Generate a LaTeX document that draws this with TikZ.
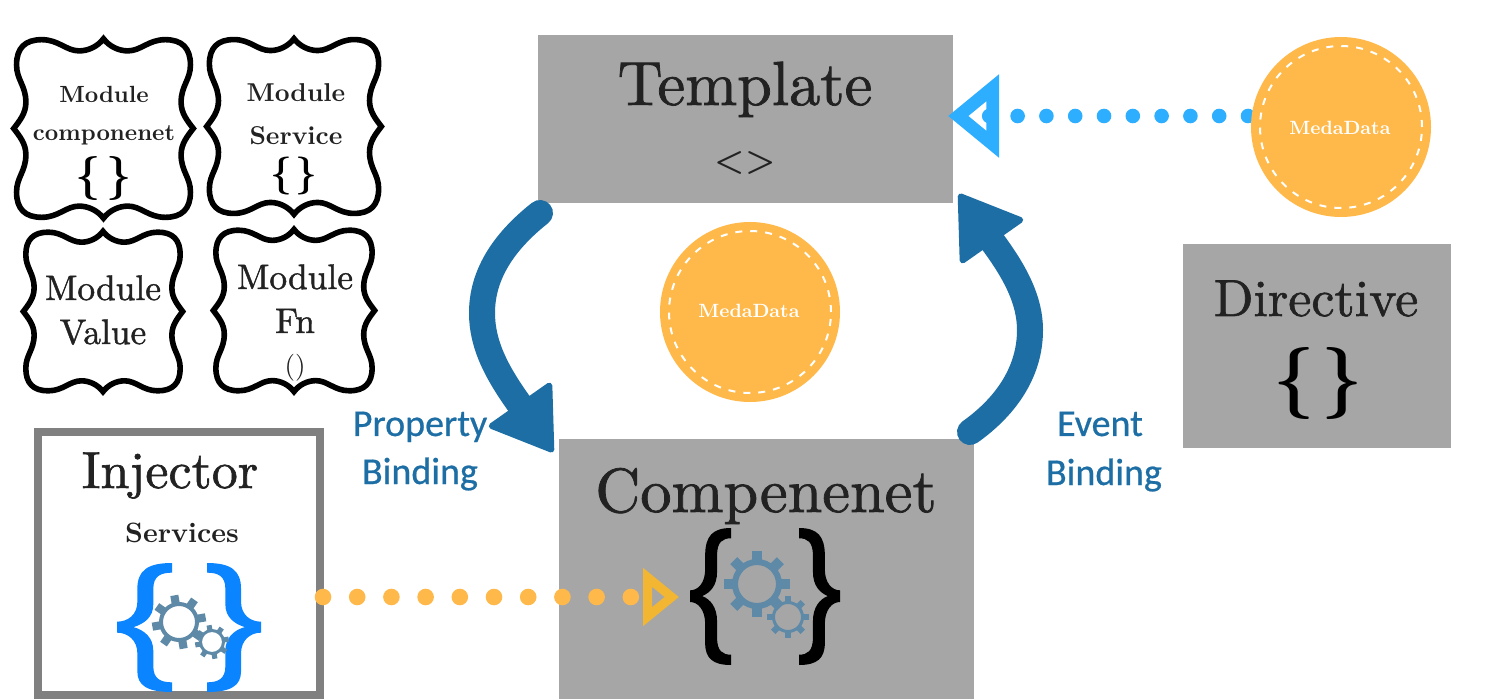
\documentclass[tikz,border=0pt]{standalone}
\usepackage{fontspec}
\usetikzlibrary{arrows.meta}
\setmainfont{lmroman10-regular.otf}[BoldFont=lmroman10-bold.otf]
\newfontfamily\heavyfont{lmroman10-regular.otf}[RawFeature={embolden=1.2}]
\newfontfamily\labfont{Carlito}[RawFeature={embolden=0.6}]
\definecolor{boxgray}{HTML}{A6A6A6}
\definecolor{ink}{HTML}{222222}
\definecolor{medaorange}{HTML}{FFB94A}
\definecolor{tipyellow}{HTML}{F2B632}
\definecolor{bigblue}{HTML}{1C6EA4}
\definecolor{skyblue}{HTML}{2EAEFF}
\definecolor{bracketblue}{HTML}{0A84FF}
\definecolor{gearblue}{HTML}{5E8AA8}
\definecolor{injgray}{HTML}{808080}
\newcommand{\fsz}[1]{\fontsize{#1}{#1}\selectfont}
\tikzset{
  x=0.5pt,y=-0.5pt,
  graybox/.style={fill=boxgray,inner sep=0pt,outer sep=0pt},
  txt/.style={anchor=base,text=ink,inner sep=0pt,outer sep=0pt},
  medacircle/.style={circle,fill=medaorange,minimum size=90pt,inner sep=0pt,outer sep=0pt},
  medatext/.style={anchor=base,text=white,inner sep=0pt,font=\bfseries\fsz{9.6}},
  labeltext/.style={anchor=base,text=bigblue,inner sep=0pt,font=\labfont\fsz{19}},
  bigarrow/.style={draw=bigblue,line width=13pt,line cap=round,line join=round,
    -{Triangle[round,length=31pt,width=40pt,line width=3pt,color=bigblue]}},
  bluedots/.style={draw=skyblue,line width=7.3pt,line cap=round,dash pattern=on 0pt off 14.4pt,
    -{Triangle[open,length=25.5pt,width=40pt,line width=6.5pt,color=skyblue]}},
  orangedots/.style={draw=medaorange,line width=8.3pt,line cap=round,dash pattern=on 0pt off 17.1pt,
    -{Triangle[open,length=18pt,width=28pt,line width=4.5pt,color=tipyellow]}},
}
\newcommand{\plaque}[5]{%
  \node[inner sep=0pt,minimum width=#4*0.5pt-#2*0.5pt,minimum height=#5*0.5pt-#3*0.5pt] (#1) at ({(#2+#4)/2},{(#3+#5)/2}) {};
  \begin{scope}[shift={(#2,#3)}]
  \pgfmathsetmacro{\pw}{(#4-#2)*0.5}\pgfmathsetmacro{\ph}{(#5-#3)*0.5}
  \draw[black,line width=2.8pt,x=\pw pt,y=-\ph pt,line join=miter]
    (0.5,0.02) .. controls (0.47,0.06) and (0.42,0.085) .. (0.37,0.085)
    .. controls (0.30,0.085) and (0.26,0.025) .. (0.17,0.025)
    .. controls (0.08,0.025) and (0.035,0.07) .. (0.035,0.16)
    .. controls (0.035,0.24) and (0.085,0.27) .. (0.085,0.36)
    .. controls (0.085,0.42) and (0.05,0.46) .. (0.02,0.5)
    .. controls (0.05,0.54) and (0.085,0.58) .. (0.085,0.64)
    .. controls (0.085,0.73) and (0.035,0.76) .. (0.035,0.84)
    .. controls (0.035,0.93) and (0.08,0.975) .. (0.17,0.975)
    .. controls (0.26,0.975) and (0.30,0.915) .. (0.37,0.915)
    .. controls (0.42,0.915) and (0.47,0.94) .. (0.5,0.98)
    .. controls (0.53,0.94) and (0.58,0.915) .. (0.63,0.915)
    .. controls (0.70,0.915) and (0.74,0.975) .. (0.83,0.975)
    .. controls (0.92,0.975) and (0.965,0.93) .. (0.965,0.84)
    .. controls (0.965,0.76) and (0.915,0.73) .. (0.915,0.64)
    .. controls (0.915,0.58) and (0.95,0.54) .. (0.98,0.5)
    .. controls (0.95,0.46) and (0.915,0.42) .. (0.915,0.36)
    .. controls (0.915,0.27) and (0.965,0.24) .. (0.965,0.16)
    .. controls (0.965,0.07) and (0.92,0.025) .. (0.83,0.025)
    .. controls (0.74,0.025) and (0.70,0.085) .. (0.63,0.085)
    .. controls (0.58,0.085) and (0.53,0.06) .. (0.5,0.02) -- cycle;
  \end{scope}}
\newcommand{\curly}[5]{% x of tip, top y, signed width, height, colour
  \begin{scope}[shift={(#1,#2)}]
  \pgfmathsetmacro{\pw}{#3*0.5}\pgfmathsetmacro{\ph}{#4*0.5}
  \fill[#5,x=\pw pt,y=-\ph pt]
    (1,0) .. controls (0.55,0) and (0.37,0.06) .. (0.37,0.2) -- (0.37,0.3)
    .. controls (0.37,0.4) and (0.2,0.455) .. (0,0.455) -- (0,0.54)
    .. controls (0.2,0.54) and (0.37,0.6) .. (0.37,0.7) -- (0.37,0.84)
    .. controls (0.37,0.95) and (0.55,1) .. (1,1) -- (1,0.925)
    .. controls (0.8,0.925) and (0.66,0.9) .. (0.66,0.8) -- (0.66,0.68)
    .. controls (0.66,0.58) and (0.5,0.52) .. (0.3,0.497)
    .. controls (0.5,0.47) and (0.66,0.42) .. (0.66,0.32) -- (0.66,0.2)
    .. controls (0.66,0.1) and (0.8,0.075) .. (1,0.075) -- cycle;
  \end{scope}}
\newcommand{\gear}[6]{% x,y,outer,root,hole,rotation (pixels)
  \begin{scope}[shift={(#1,#2)}]
  \pgfmathsetmacro{\rmid}{(#4+#5)/4}\pgfmathsetmacro{\rw}{(#4-#5)/2}
  \draw[gearblue,line width=\rw pt] (0,0) circle[radius=\rmid pt];
  \foreach \a in {0,45,...,315}{
    \fill[gearblue,rotate=\a+#6] ({#5+2},{-#3*0.15}) rectangle (#3,{#3*0.15});
  }
  \end{scope}}
\begin{document}
\begin{tikzpicture}
\useasboundingbox[fill=white] (0,0) rectangle (1500,700);

% plaques
\plaque{pComp}{10}{35}{197}{222}
\plaque{pServ}{203}{35}{385}{218}
\plaque{pVal}{20}{228}{186}{395}
\plaque{pFn}{210}{226}{378}{395}
\node[txt,font=\bfseries\fsz{11.7}] (t1a) at (104,103) {Module};
\node[txt,font=\bfseries\fsz{11.7}] (t1b) at (104,141) {componenet};
\node[txt,font=\bfseries\fsz{22},text=black] (t1c) at (104,190) {\{\hspace{3pt}\}};
\node[txt,font=\bfseries\fsz{12.9}] (t2a) at (296,102) {Module};
\node[txt,font=\bfseries\fsz{12.9}] (t2b) at (296,145) {Service};
\node[txt,font=\bfseries\fsz{19},text=black] (t2c) at (294,186) {\{\hspace{2pt}\}};
\node[txt,font=\heavyfont\fsz{17.7}] (t3a) at (103,300) {Module};
\node[txt,font=\heavyfont\fsz{17.7}] (t3b) at (103,344) {Value};
\node[txt,font=\heavyfont\fsz{17.7}] (t4a) at (295,289) {Module};
\node[txt,font=\heavyfont\fsz{17.7}] (t4b) at (295,333) {Fn};
\node[txt,font=\fsz{13.5}] (t4c) at (295,375) {()};

% grey boxes
\node[graybox,minimum width=207.5pt,minimum height=84pt] (template) at (745.5,119) {};
\node[graybox,minimum width=207.5pt,minimum height=130pt] (comp) at (766.5,569) {};
\node[graybox,minimum width=134pt,minimum height=102pt] (directive) at (1317,346) {};
\node[txt,font=\heavyfont\fsz{31.2}] (templateT) at (745,105) {Template};
\node[txt,font=\bfseries\fsz{17}] (templateS) at (745,172) {<>};
\node[txt,font=\heavyfont\fsz{31.2}] (compT) at (766,512) {Compenenet};
\node[txt,font=\heavyfont\fsz{26}] (directiveT) at (1316,316) {Directive};
\node[txt,font=\bfseries\fsz{36},text=black] (directiveS) at (1318,401) {\{\hspace{3.5pt}\}};

% injector
\node[draw=injgray,fill=white,line width=4pt,minimum width=141pt,minimum height=131.5pt,inner sep=0pt,outer sep=0pt] (injector) at (179,563.5) {};
\node[txt,font=\heavyfont\fsz{26}] (injectorT) at (170,488) {Injector};
\node[txt,font=\bfseries\fsz{14}] (services) at (182,542) {Services};

% braces and gears
\curly{690}{528}{41}{137}{black}
\curly{840}{528}{-41}{137}{black}
\gear{757}{584}{33}{25}{19}{0}
\gear{788}{617}{21}{16}{13}{0}
\curly{117}{563}{55}{129}{bracketblue}
\curly{261}{563}{-54}{129}{bracketblue}
\gear{179}{622}{27}{20}{16}{10}
\gear{212}{642}{17}{13}{10}{10}

% connectors
\coordinate (mdOut) at (1248,116);
\coordinate (tplIn) at (948,116);
\coordinate (tplDot) at (989.2,116);
\draw[bluedots] (mdOut) -- (tplIn);
\fill[skyblue] (tplDot) circle[radius=3.65pt];
\node[medacircle] (mdTop) at (1341,127) {};
\draw[white,line width=1pt,dash pattern=on 3.5pt off 4pt] (mdTop.center) circle[radius=40.5pt];
\node[medatext] (mdTopT) at (1340,135) {MedaData};
\node[medacircle] (mdMid) at (750,312) {};
\draw[white,line width=1pt,dash pattern=on 3.5pt off 4pt] (mdMid.center) circle[radius=40.5pt];
\node[medatext] (mdMidT) at (749,318) {MedaData};

\coordinate (injOut) at (323,597);
\coordinate (compIn) at (679,597);
\draw[orangedots] (injOut) -- (compIn);

\coordinate (tplOut) at (540,213);
\coordinate (compTop) at (553,452);
\draw[bigarrow] (tplOut) .. controls (502,243) and (482,276) .. (482,313)
   .. controls (482,345) and (497,373) .. (520,405) -- (compTop);
\coordinate (compOut) at (970,432);
\coordinate (tplBack) at (959,194);
\draw[bigarrow] (compOut) .. controls (1008,405) and (1030,370) .. (1030,330)
   .. controls (1030,300) and (1015,272) .. (992,241) -- (tplBack);

\node[labeltext] (propL) at (420,436) {Property};
\node[labeltext] (propB) at (420,484) {Binding};
\node[labeltext] (evL) at (1100,436) {Event};
\node[labeltext] (evB) at (1104,485) {Binding};
\end{tikzpicture}
\end{document}
